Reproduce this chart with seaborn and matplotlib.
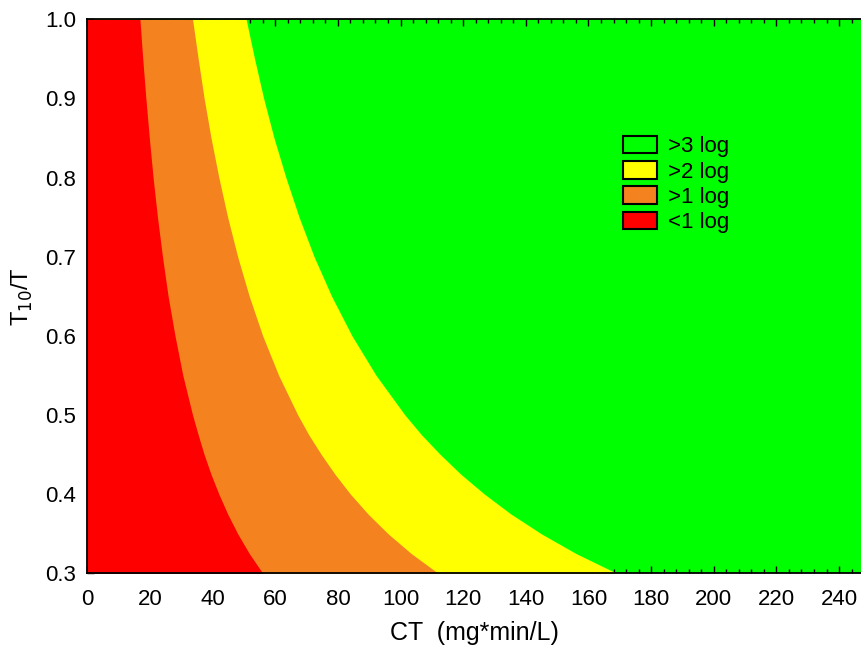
import matplotlib
matplotlib.use("Agg")
import matplotlib.pyplot as plt
from matplotlib.patches import Patch
from matplotlib.ticker import MultipleLocator
import pandas as pd
import seaborn as sns

ratio = [0.3, 0.325, 0.35, 0.375, 0.4, 0.425, 0.45, 0.475, 0.5, 0.55,
         0.6, 0.65, 0.7, 0.75, 0.8, 0.85, 0.9, 0.95, 1.0]
# CT (mg*min/L) at which each inactivation zone ends
ct_1log = [56.0, 51.7, 48.0, 44.8, 42.0, 39.5, 37.3, 35.4, 33.6, 30.5,
           28.0, 25.8, 24.0, 22.4, 21.0, 19.8, 18.7, 17.7, 16.8]
ct_2log = [112.0, 103.4, 96.0, 89.6, 84.0, 79.1, 74.7, 70.7, 67.2, 61.1,
           56.0, 51.7, 48.0, 44.8, 42.0, 39.5, 37.3, 35.4, 33.6]
ct_3log = [169.0, 156.0, 144.9, 135.2, 126.8, 119.3, 112.7, 106.7, 101.4, 92.2,
           84.5, 78.0, 72.4, 67.6, 63.4, 59.6, 56.3, 53.4, 50.7]

zone_labels = [">3 log", ">2 log", ">1 log", "<1 log"]
zone_colors = ["#00ff00", "#ffff00", "#f4831f", "#ff0000"]

df = pd.DataFrame({"ratio": ratio, "c1": ct_1log, "c2": ct_2log, "c3": ct_3log})

sns.set_theme(style="ticks")
plt.rcParams["font.family"] = ["Liberation Sans", "DejaVu Sans"]
plt.rcParams["text.color"] = "black"
plt.rcParams["axes.labelcolor"] = "black"
plt.rcParams["xtick.color"] = "black"
plt.rcParams["ytick.color"] = "black"

fig = plt.figure(figsize=(8.61, 6.48), dpi=100)
ax = fig.add_axes([0.1014, 0.1153, 0.8986, 0.8549])

# green background = >3 log, then stack the lower zones on top
ax.set_facecolor(zone_colors[0])
ax.fill_betweenx(df["ratio"], 0, df["c3"], color=zone_colors[1], lw=0)
ax.fill_betweenx(df["ratio"], 0, df["c2"], color=zone_colors[2], lw=0)
ax.fill_betweenx(df["ratio"], 0, df["c1"], color=zone_colors[3], lw=0)

ax.set_xlim(0, 247)
ax.set_ylim(0.3, 1.0)
ax.xaxis.set_major_locator(MultipleLocator(20))
ax.xaxis.set_minor_locator(MultipleLocator(4))
ax.yaxis.set_major_locator(MultipleLocator(0.1))
ax.yaxis.set_minor_locator(MultipleLocator(0.025))
ax.yaxis.set_major_formatter(matplotlib.ticker.FormatStrFormatter("%.1f"))

ax.tick_params(which="both", direction="in", top=True, right=False,
               color="black", width=1.0)
ax.tick_params(which="major", length=5, labelsize=16)
ax.tick_params(axis="x", which="major", pad=11.5)
ax.tick_params(axis="y", which="major", pad=8)
ax.tick_params(which="minor", length=3)
for s in ["left", "bottom", "top"]:
    ax.spines[s].set_linewidth(1.3)
    ax.spines[s].set_color("black")
ax.spines["right"].set_visible(False)

ax.set_xlabel("CT  (mg*min/L)", fontsize=18, labelpad=8)
ax.set_ylabel("T$_{10}$/T", fontsize=17, labelpad=7)

handles = [Patch(facecolor=c, edgecolor="black", linewidth=1.5) for c in zone_colors]
ax.legend(handles, zone_labels, loc="upper left", bbox_to_anchor=(0.692, 0.79),
          frameon=False, fontsize=16, handlelength=1.55, handleheight=0.85,
          handletextpad=0.5, labelspacing=0.17, borderpad=0, borderaxespad=0)

fig.savefig("out.png", dpi=100)
